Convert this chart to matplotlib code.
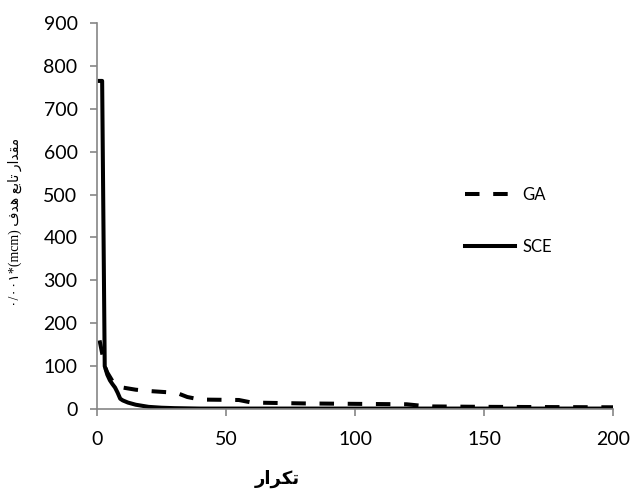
import matplotlib
matplotlib.use("Agg")
import matplotlib.pyplot as plt

# iterations / objective values
ga_iter = [1, 2, 3, 4, 5, 6, 8, 10, 15, 20, 25, 30, 32, 35, 40, 55, 60, 80, 100, 120, 125, 130, 150, 200]
ga_val = [160, 130, 100, 85, 75, 65, 55, 50, 45, 42, 40, 38, 35, 28, 22, 21, 15, 13, 12, 11, 8, 6, 5, 4]

sce_iter = [1, 2, 3, 4, 5, 6, 7, 8, 9, 10, 12, 15, 20, 25, 30, 40, 100, 150, 200]
sce_val = [765, 765, 100, 80, 67, 58, 50, 38, 24, 20, 15, 10, 5, 3, 2, 1, 1, 1, 1]

xticks = [0, 50, 100, 150, 200]
yticks = [0, 100, 200, 300, 400, 500, 600, 700, 800, 900]

# Persian labels, pre-shaped (presentation forms, visual order)
xlabel = "\ufead\ufe8d\ufeae\ufb91\ufe97"  # تکرار
ylabel = "\u06f0/\u06f0\u06f0\u06f1*(mcm) \ufed1\ufeaa\ufeeb \ufeca\ufe91\ufe8e\ufe97 \ufead\ufe8d\ufeaa\ufed8\ufee3"

plt.rcParams['font.family'] = ['Lato', 'DejaVu Sans']
grey = "#868686"

fig = plt.figure(figsize=(6.31, 4.90), dpi=100)
ax = fig.add_axes([0.1537, 0.1653, 0.8178, 0.7877])

ax.plot(ga_iter, ga_val, color="black", lw=2.9, dashes=(3.6, 3.4), label="GA")
ax.plot(sce_iter, sce_val, color="black", lw=2.9, label="SCE")

ax.set_xlim(0, 200)
ax.set_ylim(0, 900)
ax.set_xticks(xticks)
ax.set_yticks(yticks)
ax.tick_params(labelsize=14, color=grey, length=5, width=1.2)
ax.tick_params(axis="y", pad=9)
ax.tick_params(axis="x", pad=11)
for s in ["top", "right"]:
    ax.spines[s].set_visible(False)
for s in ["left", "bottom"]:
    ax.spines[s].set_color(grey)
    ax.spines[s].set_linewidth(1.2)

leg = ax.legend(loc="upper left", bbox_to_anchor=(0.685, 0.615), frameon=False,
                fontsize=12, handlelength=3.0, labelspacing=2.2, handletextpad=0.4)

fig.text(0.44, 0.022, xlabel, ha="center", va="center", fontsize=13,
         fontweight="bold", family=["DejaVu Sans"])
fig.text(0.024, 0.547, ylabel, ha="center", va="center", rotation=90,
         fontsize=10, family=["Liberation Serif", "DejaVu Sans"])

fig.savefig("out.png", dpi=100)
